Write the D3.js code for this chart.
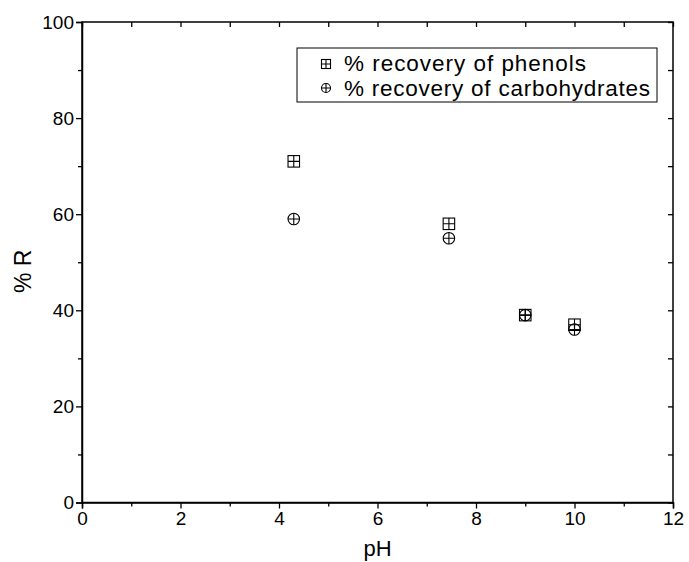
<!DOCTYPE html>
<html><head><meta charset="utf-8">
<script src="https://cdn.jsdelivr.net/npm/d3@7"></script>
<style>body{margin:0;background:#fff;} text{font-family:"Liberation Sans",Arial,sans-serif;fill:#000;}</style>
</head><body>
<svg id="c" width="689" height="562"></svg>
<script>
const phValues = [4.3, 7.45, 9, 10];
const phenols = [71, 58, 39, 37];
const carbohydrates = [59, 55, 39, 36];
const xTicks = [0, 2, 4, 6, 8, 10, 12];
const yTicks = [0, 20, 40, 60, 80, 100];
const seriesNames = ["% recovery of phenols", "% recovery of carbohydrates"];

const svg = d3.select("#c");
const L = 82, R = 673, T = 22, B = 502.5;
const x = d3.scaleLinear().domain([0, 12]).range([L, R]);
const y = d3.scaleLinear().domain([0, 100]).range([B, T]);

const g = svg.append("g");
g.append("rect").attr("x", L).attr("y", T).attr("width", R - L).attr("height", B - T)
  .attr("fill", "none").attr("stroke", "#000").attr("stroke-width", 1.5);

const minorX = d3.range(1, 12, 2);
const minorY = d3.range(10, 100, 20);

g.append("g").attr("transform", `translate(0,${B})`)
  .call(d3.axisBottom(x).tickValues(xTicks).tickFormat(d3.format("d")).tickSize(6).tickPadding(3));
g.append("g").attr("transform", `translate(0,${B})`)
  .call(d3.axisBottom(x).tickValues(minorX).tickFormat("").tickSize(4)).select(".domain").remove();
g.append("g").attr("transform", `translate(${L},0)`)
  .call(d3.axisLeft(y).tickValues(yTicks).tickFormat(d3.format("d")).tickSize(6).tickPadding(2));
g.append("g").attr("transform", `translate(${L},0)`)
  .call(d3.axisLeft(y).tickValues(minorY).tickFormat("").tickSize(4)).select(".domain").remove();
g.append("g").attr("transform", `translate(0,${T})`)
  .call(d3.axisBottom(x).tickValues(xTicks.concat(minorX)).tickFormat("").tickSize(5)).select(".domain").remove();
g.append("g").attr("transform", `translate(${R},0)`)
  .call(d3.axisLeft(y).tickValues(yTicks.concat(minorY)).tickFormat("").tickSize(5)).select(".domain").remove();

g.selectAll(".domain").attr("stroke-width", 1.5);
g.selectAll(".tick line").attr("stroke-width", 1.3);
g.selectAll(".tick text").style("font-size", "19px").style("font-family", '"Liberation Sans",Arial,sans-serif');

svg.append("text").attr("x", (L + R) / 2).attr("y", 556).attr("text-anchor", "middle")
  .style("font-size", "22px").text("pH");
svg.append("text").attr("transform", `translate(31,${(T + B) / 2 + 9}) rotate(-90)`).attr("text-anchor", "middle")
  .style("font-size", "23px").text("% R");

function squareCross(sel, cx, cy, s) {
  const h = s / 2;
  sel.append("rect").attr("x", cx - h).attr("y", cy - h).attr("width", s).attr("height", s)
    .attr("fill", "none").attr("stroke", "#000").attr("stroke-width", 1.1);
  sel.append("path").attr("d", `M${cx - h},${cy}H${cx + h}M${cx},${cy - h}V${cy + h}`)
    .attr("stroke", "#000").attr("stroke-width", 1.1);
}
function circlePlus(sel, cx, cy, s) {
  const h = s / 2;
  sel.append("circle").attr("cx", cx).attr("cy", cy).attr("r", h)
    .attr("fill", "none").attr("stroke", "#000").attr("stroke-width", 1.1);
  sel.append("path").attr("d", `M${cx - h},${cy}H${cx + h}M${cx},${cy - h}V${cy + h}`)
    .attr("stroke", "#000").attr("stroke-width", 1.1);
}
const pts = svg.append("g");
phValues.forEach((p, i) => squareCross(pts, x(p), y(phenols[i]), 11.5));
phValues.forEach((p, i) => circlePlus(pts, x(p), y(carbohydrates[i]), 11.5));

const lg = svg.append("g");
lg.append("rect").attr("x", 297).attr("y", 48).attr("width", 360).attr("height", 54)
  .attr("fill", "#fff").attr("stroke", "#000").attr("stroke-width", 1);
squareCross(lg, 326, 64, 9);
circlePlus(lg, 326, 88, 9);
lg.append("text").attr("x", 344).attr("y", 71).style("font-size", "22.5px").attr("textLength", 242).text(seriesNames[0]);
lg.append("text").attr("x", 344).attr("y", 96).style("font-size", "22.5px").attr("textLength", 306).text(seriesNames[1]);
</script>
</body></html>
